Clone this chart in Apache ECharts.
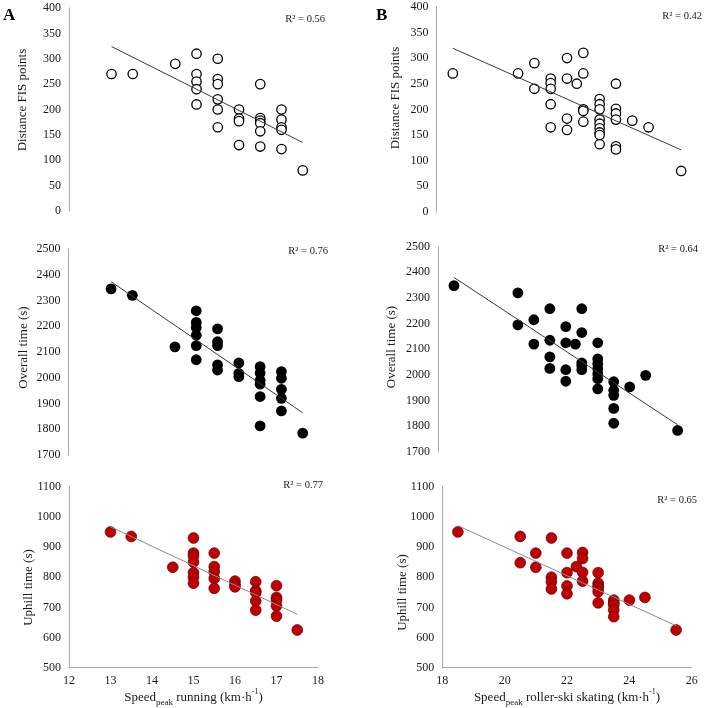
<!DOCTYPE html>
<html>
<head>
<meta charset="utf-8">
<script src="https://cdn.jsdelivr.net/npm/echarts@6/dist/echarts.min.js"></script>
<style>html,body{margin:0;padding:0;background:#fff}#c{width:705px;height:708px}</style>
</head>
<body>
<div id="c"></div>
<script>
// ---- Panel A (Speed_peak running) ----
const a1X = [13, 13.5, 14.5, 15, 15, 15, 15, 15, 15.5, 15.5, 15.5, 15.5, 15.5, 15.5, 16, 16, 16, 16, 16.5, 16.5, 16.5, 16.5, 16.5, 16.5, 17, 17, 17, 17, 17, 17.5];
const a1Fis = [270, 270, 290, 310, 270, 255, 240, 210, 300, 260, 250, 220, 200, 165, 200, 182, 177, 130, 250, 183, 178, 173, 157, 127, 200, 180, 165, 160, 122, 80];

const a2X = [13, 13.5, 14.5, 15, 15, 15, 15, 15, 15, 15.5, 15.5, 15.5, 15.5, 15.5, 16, 16, 16, 16.5, 16.5, 16.5, 16.5, 16.5, 16.5, 17, 17, 17, 17, 17, 17.5];
const a2Overall = [2345, 2320, 2120, 2260, 2215, 2195, 2165, 2125, 2070, 2190, 2140, 2125, 2050, 2030, 2058, 2017, 2004, 2043, 2018, 1990, 1975, 1927, 1813, 2024, 1998, 1955, 1920, 1871, 1785];

const a3X = [13, 13.5, 14.5, 15, 15, 15, 15, 15, 15, 15, 15.5, 15.5, 15.5, 15.5, 15.5, 16, 16, 16, 16.5, 16.5, 16.5, 16.5, 16.5, 17, 17, 17, 17, 17, 17.5];
const a3Uphill = [950, 935, 833, 930, 880, 870, 850, 815, 800, 780, 880, 835, 818, 796, 763, 787, 775, 768, 785, 755, 749, 721, 691, 772, 733, 724, 705, 671, 625];

// ---- Panel B (Speed_peak roller-ski skating) ----
const b1X = [18.5, 20.5, 21, 21, 21.5, 21.5, 21.5, 21.5, 21.5, 22, 22, 22, 22, 22.3, 22.5, 22.5, 22.5, 22.5, 22.5, 23, 23, 23, 23, 23, 23, 23, 23, 23, 23.5, 23.5, 23.5, 23.5, 23.5, 23.5, 24, 24.5, 25.5];
const b1Fis = [270, 270, 290, 240, 260, 251, 240, 210, 165, 300, 260, 182, 160, 250, 310, 270, 200, 197, 176, 220, 210, 200, 180, 172, 163, 155, 150, 132, 250, 201, 192, 180, 128, 122, 178, 165, 80];

const b2X = [18.5, 20.5, 20.5, 21, 21, 21.5, 21.5, 21.5, 21.5, 22, 22, 22, 22, 22.3, 22.5, 22.5, 22.5, 22.5, 22.5, 23, 23, 23, 23, 23, 23, 23, 23.5, 23.5, 23.5, 23.5, 23.5, 24, 24.5, 25.5];
const b2Overall = [2348, 2320, 2195, 2215, 2120, 2258, 2135, 2070, 2025, 2188, 2125, 2020, 1975, 2120, 2258, 2165, 2047, 2035, 2020, 2125, 2062, 2043, 2023, 2004, 1985, 1945, 1973, 1940, 1920, 1869, 1811, 1953, 1998, 1783];

const b3X = [18.5, 20.5, 20.5, 21, 21, 21.5, 21.5, 21.5, 21.5, 22, 22, 22, 22, 22.3, 22.5, 22.5, 22.5, 22.5, 23, 23, 23, 23, 23, 23, 23.5, 23.5, 23.5, 23.5, 23.5, 24, 24.5, 25.5];
const b3Uphill = [950, 935, 848, 880, 833, 930, 800, 785, 761, 880, 815, 771, 745, 835, 882, 862, 816, 787, 815, 780, 771, 765, 752, 715, 724, 715, 708, 691, 669, 724, 733, 625];

// trend line end points
const trendA1 = [[13, 324], [17.5, 135]];
const trendA2 = [[13, 2373], [17.5, 1864]];
const trendA3 = [[13, 967], [17.5, 677]];
const trendB1 = [[18.5, 319], [25.5, 121]];
const trendB2 = [[18.5, 2380], [25.5, 1805]];
const trendB3 = [[18.5, 971], [25.5, 639]];

const r2Labels = ['R² = 0.56', 'R² = 0.76', 'R² = 0.77', 'R² = 0.42', 'R² = 0.64', 'R² = 0.65'];
const yNames = ['Distance FIS points', 'Overall time (s)', 'Uphill time (s)'];
const yRanges = [[0, 400, 50], [1700, 2500, 100], [500, 1100, 100]];
const xRangeA = [12, 18, 1];
const xRangeB = [18, 26, 2];

const zip = (xs, ys) => xs.map((x, i) => [x, ys[i]]);
const FONT = '"Liberation Serif", "Times New Roman", serif';
const TXT = '#1a1a1a';
const AXC = '#a6a6a6';

const grids = [
  {left: 69, top: 8, width: 255, height: 203},
  {left: 68.5, top: 249, width: 255.5, height: 206},
  {left: 69, top: 486.7, width: 249, height: 181},
  {left: 436.5, top: 6.7, width: 261, height: 205.3},
  {left: 438, top: 246.7, width: 255.6, height: 205},
  {left: 442.3, top: 486.7, width: 249.4, height: 181}
].map(g => Object.assign({containLabel: false, outerBoundsMode: 'none'}, g));

const xAxes = [], yAxes = [];
for (let i = 0; i < 6; i++) {
  const row = i % 3;
  const isB = i >= 3;
  const xr = isB ? xRangeB : xRangeA;
  const bottomRow = row === 2;
  xAxes.push({
    gridIndex: i, type: 'value', min: xr[0], max: xr[1], interval: xr[2],
    show: bottomRow,
    axisLine: {show: true, lineStyle: {color: AXC, width: 1}},
    axisTick: {show: false}, splitLine: {show: false},
    axisLabel: {fontFamily: FONT, fontSize: 12, color: TXT, margin: 7, formatter: v => String(v)},
    name: bottomRow ? (isB ? '{n|Speed}{sub|peak}{n| roller-ski skating (km·h}{sup|-1}{n|)}' : '{n|Speed}{sub|peak}{n| running (km·h}{sup|-1}{n|)}') : '',
    nameLocation: 'middle', nameGap: 16,
    nameTextStyle: {
      fontFamily: FONT, color: TXT,
      rich: {
        n: {fontFamily: FONT, fontSize: 13, color: TXT, lineHeight: 20},
        sub: {fontFamily: FONT, fontSize: 9, color: TXT, verticalAlign: 'bottom', lineHeight: 20},
        sup: {fontFamily: FONT, fontSize: 8, color: TXT, verticalAlign: 'top', lineHeight: 20}
      }
    }
  });
  const yr = yRanges[row];
  yAxes.push({
    gridIndex: i, type: 'value', min: yr[0], max: yr[1], interval: yr[2],
    axisLine: {show: true, lineStyle: {color: AXC, width: 1}},
    axisTick: {show: false}, splitLine: {show: false},
    axisLabel: {fontFamily: FONT, fontSize: 12, color: TXT, margin: 8, formatter: v => String(v)}
  });
}

const pts = [zip(a1X, a1Fis), zip(a2X, a2Overall), zip(a3X, a3Uphill), zip(b1X, b1Fis), zip(b2X, b2Overall), zip(b3X, b3Uphill)];
const trends = [trendA1, trendA2, trendA3, trendB1, trendB2, trendB3];
const markerStyles = [
  {color: '#ffffff', borderColor: '#000000', borderWidth: 1.3},
  {color: '#000000', borderColor: '#000000', borderWidth: 0},
  {color: '#c00000', borderColor: '#5a0000', borderWidth: 0.7}
];
const markerSizes = [9.4, 10.8, 10.8];
const trendColors = ['#3a3a3a', '#3a3a3a', '#8c8c8c'];

const series = [];
for (let i = 0; i < 6; i++) {
  const row = i % 3;
  series.push({
    type: 'line', xAxisIndex: i, yAxisIndex: i, data: trends[i],
    symbol: 'none', silent: true, z: 3,
    lineStyle: {color: trendColors[row], width: 1}
  });
  series.push({
    type: 'scatter', xAxisIndex: i, yAxisIndex: i, data: pts[i],
    symbol: 'circle', symbolSize: markerSizes[row], z: 2,
    itemStyle: Object.assign({opacity: 1}, markerStyles[row])
  });
}

const txtStyle = (text, font, align) => ({text, font, fill: TXT, align, verticalAlign: 'middle', textAlign: align, textVerticalAlign: 'middle'});
const r2Pos = [[325, 19.5], [328, 251.5], [323, 485], [702, 16], [698, 249], [697, 500.5]];
const graphic = r2Pos.map((p, i) => ({
  type: 'text', x: p[0], y: p[1], z: 10, style: txtStyle(r2Labels[i], '10.5px ' + FONT, 'right')
}));
const yTitlePos = [[23, 100, 0], [24, 347.5, 1], [29, 587.5, 2], [396, 98, 0], [392, 347, 1], [402.5, 592.5, 2]];
yTitlePos.forEach(p => graphic.push({
  type: 'text', x: p[0], y: p[1], rotation: Math.PI / 2, z: 10,
  style: txtStyle(yNames[p[2]], '13px ' + FONT, 'center')
}));
graphic.push({type: 'text', x: 3, y: 15.5, style: Object.assign(txtStyle('A', 'bold 17px ' + FONT, 'left'), {fill: '#000'})});
graphic.push({type: 'text', x: 376, y: 15.5, style: Object.assign(txtStyle('B', 'bold 17px ' + FONT, 'left'), {fill: '#000'})});

const chart = echarts.init(document.getElementById('c'), null, {renderer: 'canvas'});
chart.setOption({
  backgroundColor: '#ffffff',
  animation: false,
  grid: grids, xAxis: xAxes, yAxis: yAxes, series: series, graphic: graphic
});
</script>
</body>
</html>
